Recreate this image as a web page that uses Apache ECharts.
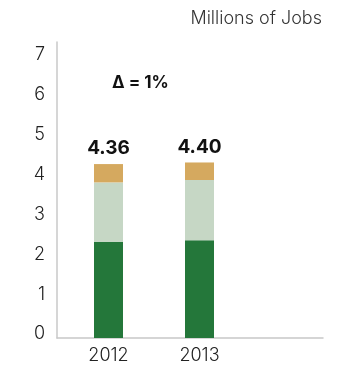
<!DOCTYPE html>
<html>
<head>
<meta charset="utf-8">
<script src="https://cdn.jsdelivr.net/npm/echarts@6/dist/echarts.min.js"></script>
<style>
  html, body { margin: 0; padding: 0; background: #fff; }
  #chart { width: 337px; height: 365px; }
</style>
</head>
<body>
<div id="chart"></div>
<script>
// Jobs by year, in millions, split into three stacked components
const years = ['2012', '2013', ''];
const totals = [4.36, 4.40];
const baseJobs = [2.41, 2.45];
const midJobs = [1.49, 1.51];
// top segment closes each stack at its stated total
const topJobs = totals.map((t, i) => +(t - baseJobs[i] - midJobs[i]).toFixed(2));
const yTicks = [0, 1, 2, 3, 4, 5, 6, 7];
const deltaText = 'Δ = 1%';
const unitText = 'Millions of Jobs';

const FONT = 'Inter, "DejaVu Sans", sans-serif';
const Y_MAX = 7.42;
const AXIS_COLOR = '#c8c8c8';

const chart = echarts.init(document.getElementById('chart'), null, { renderer: 'canvas' });

chart.setOption({
  animation: false,
  textStyle: { fontFamily: FONT },
  title: [
    {
      text: unitText, right: 15, top: 10, padding: 0,
      textStyle: { fontFamily: FONT, fontSize: 18, fontWeight: 300, color: '#333' }
    },
    {
      text: deltaText, left: 112, top: 74, padding: 0,
      textStyle: { fontFamily: FONT, fontSize: 17, fontWeight: 'bold', color: '#111' }
    }
  ],
  // grid 0 carries the visible frame (left value axis and baseline),
  // grid 1 carries the year bands the bars sit in
  grid: [
    { left: 57, right: 14, top: 42, bottom: 27 },
    { left: 63, right: 1, top: 42, bottom: 27 }
  ],
  xAxis: [
    {
      gridIndex: 0, type: 'value', min: 0, max: 1,
      axisLine: { show: true, lineStyle: { color: AXIS_COLOR, width: 1.5 } },
      axisTick: { show: false }, axisLabel: { show: false }, splitLine: { show: false }
    },
    {
      gridIndex: 1, type: 'category', data: years,
      axisLine: { show: false }, axisTick: { show: false }, splitLine: { show: false },
      axisLabel: { margin: 9, fontSize: 18, fontWeight: 300, color: '#222', fontFamily: FONT }
    }
  ],
  yAxis: [
    {
      gridIndex: 0, type: 'value', min: 0, max: Y_MAX, interval: 1,
      axisLine: { show: true, lineStyle: { color: AXIS_COLOR, width: 1.5 } },
      axisTick: { show: false }, splitLine: { show: false },
      axisLabel: {
        margin: 12, fontSize: 18, fontWeight: 300, color: '#222', fontFamily: FONT,
        verticalAlign: 'bottom', lineHeight: 8,
        formatter: (v) => yTicks.includes(v) ? String(v) : ''
      }
    },
    {
      gridIndex: 1, type: 'value', min: 0, max: Y_MAX, interval: 1,
      axisLine: { show: false }, axisTick: { show: false },
      axisLabel: { show: false }, splitLine: { show: false }
    }
  ],
  series: [
    {
      type: 'bar', stack: 'jobs', barWidth: 29, xAxisIndex: 1, yAxisIndex: 1,
      itemStyle: { color: '#24773a' },
      data: baseJobs
    },
    {
      type: 'bar', stack: 'jobs', barWidth: 29, xAxisIndex: 1, yAxisIndex: 1,
      itemStyle: { color: '#c6d7c5' },
      data: midJobs
    },
    {
      type: 'bar', stack: 'jobs', barWidth: 29, xAxisIndex: 1, yAxisIndex: 1,
      itemStyle: { color: '#d5a95f' },
      data: topJobs,
      label: {
        show: true, position: 'top', distance: 6,
        fontFamily: FONT, fontSize: 19, fontWeight: 'bold', color: '#111',
        formatter: (p) => totals[p.dataIndex].toFixed(2)
      }
    }
  ]
});
</script>
</body>
</html>
